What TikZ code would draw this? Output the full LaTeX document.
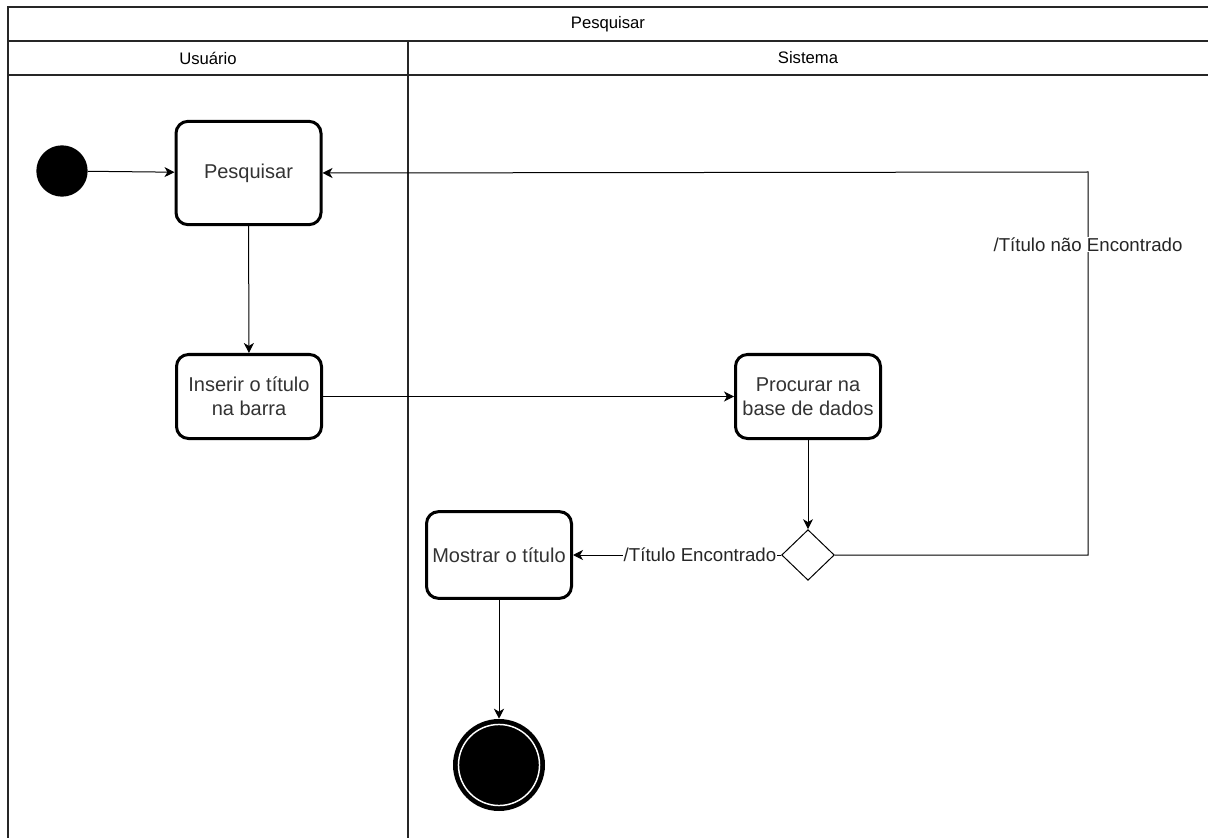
\documentclass[tikz,border=0pt]{standalone}
\usepackage{fontspec}
\setmainfont{Liberation Sans}
\usetikzlibrary{arrows.meta,positioning,shapes.geometric}

\tikzset{
  raia/.style={line width=1.1pt, draw=black!85},
  cabecalho/.style={font=\fontsize{12.5}{14}\selectfont},
  estado/.style={draw, rounded corners=9pt, line width=2.25pt, fill=white, align=center,
    text=black!80, font=\fontsize{15}{18}\selectfont, minimum width=108.75pt, minimum height=63pt, inner sep=2pt},
  inicio/.style={circle, fill=black, minimum size=38.5pt, inner sep=0pt},
  fim/.style={circle, fill=black, minimum size=69pt, inner sep=0pt,
    path picture={\draw[white, line width=1.1pt] (path picture bounding box.center) circle (30.4pt);}},
  decisao/.style={diamond, draw, line width=0.75pt, fill=white, aspect=1, inner sep=0pt,
    minimum width=39.5pt, minimum height=38pt},
  seta/.style={line width=0.75pt, -{Stealth[length=7.5pt, width=7.5pt, inset=2.2pt]}},
  rotulo/.style={fill=white, inner sep=0.5pt, text=black!85, font=\fontsize{14}{16}\selectfont}
}

\begin{document}
\begin{tikzpicture}[x=0.75pt, y=-0.75pt]
\clip (0,0) rectangle (1208,838);
\fill[white] (0,0) rectangle (1208,838);

% Swimlanes
\draw[raia] (8,845) -- (8,7) -- (1215,7);
\draw[raia] (8,41) -- (1215,41);
\draw[raia] (8,75) -- (1215,75);
\draw[raia] (408,41) -- (408,845);
\node[cabecalho] (titulo) at (608,24) {Pesquisar};
\node[cabecalho] (usuario) at (208,58) {Usuário};
\node[cabecalho] (sistema) at (808,58) {Sistema};

% States
\node[inicio] (ini) at (62,171) {};
\node[estado, minimum height=77.5pt] (pesq) at (248.5,173) {Pesquisar};
\node[estado] (inserir) at (249,396.5) {Inserir o título\\na barra};
\node[estado] (procurar) at (808,396.5) {Procurar na\\base de dados};
\node[decisao] (dec) at (808,555) {};
\node[estado, minimum height=65pt] (mostrar) at (499,555) {Mostrar o título};
\node[fim] (final) at (499,765) {};
\coordinate (canto) at (1088,172);

% Transitions
\draw[seta] (ini) -- (pesq);
\draw[seta] (pesq) -- (inserir);
\draw[seta] (inserir) -- (procurar);
\draw[seta] (procurar) -- (dec);
\draw[seta] (dec) -- node[rotulo, pos=0.39] {/Título Encontrado} (mostrar);
\draw[seta] (dec.east) -| node[rotulo, pos=0.905] {/Título não Encontrado} (canto) -- (pesq.east);
\draw[seta] (mostrar) -- (final);
\end{tikzpicture}
\end{document}
